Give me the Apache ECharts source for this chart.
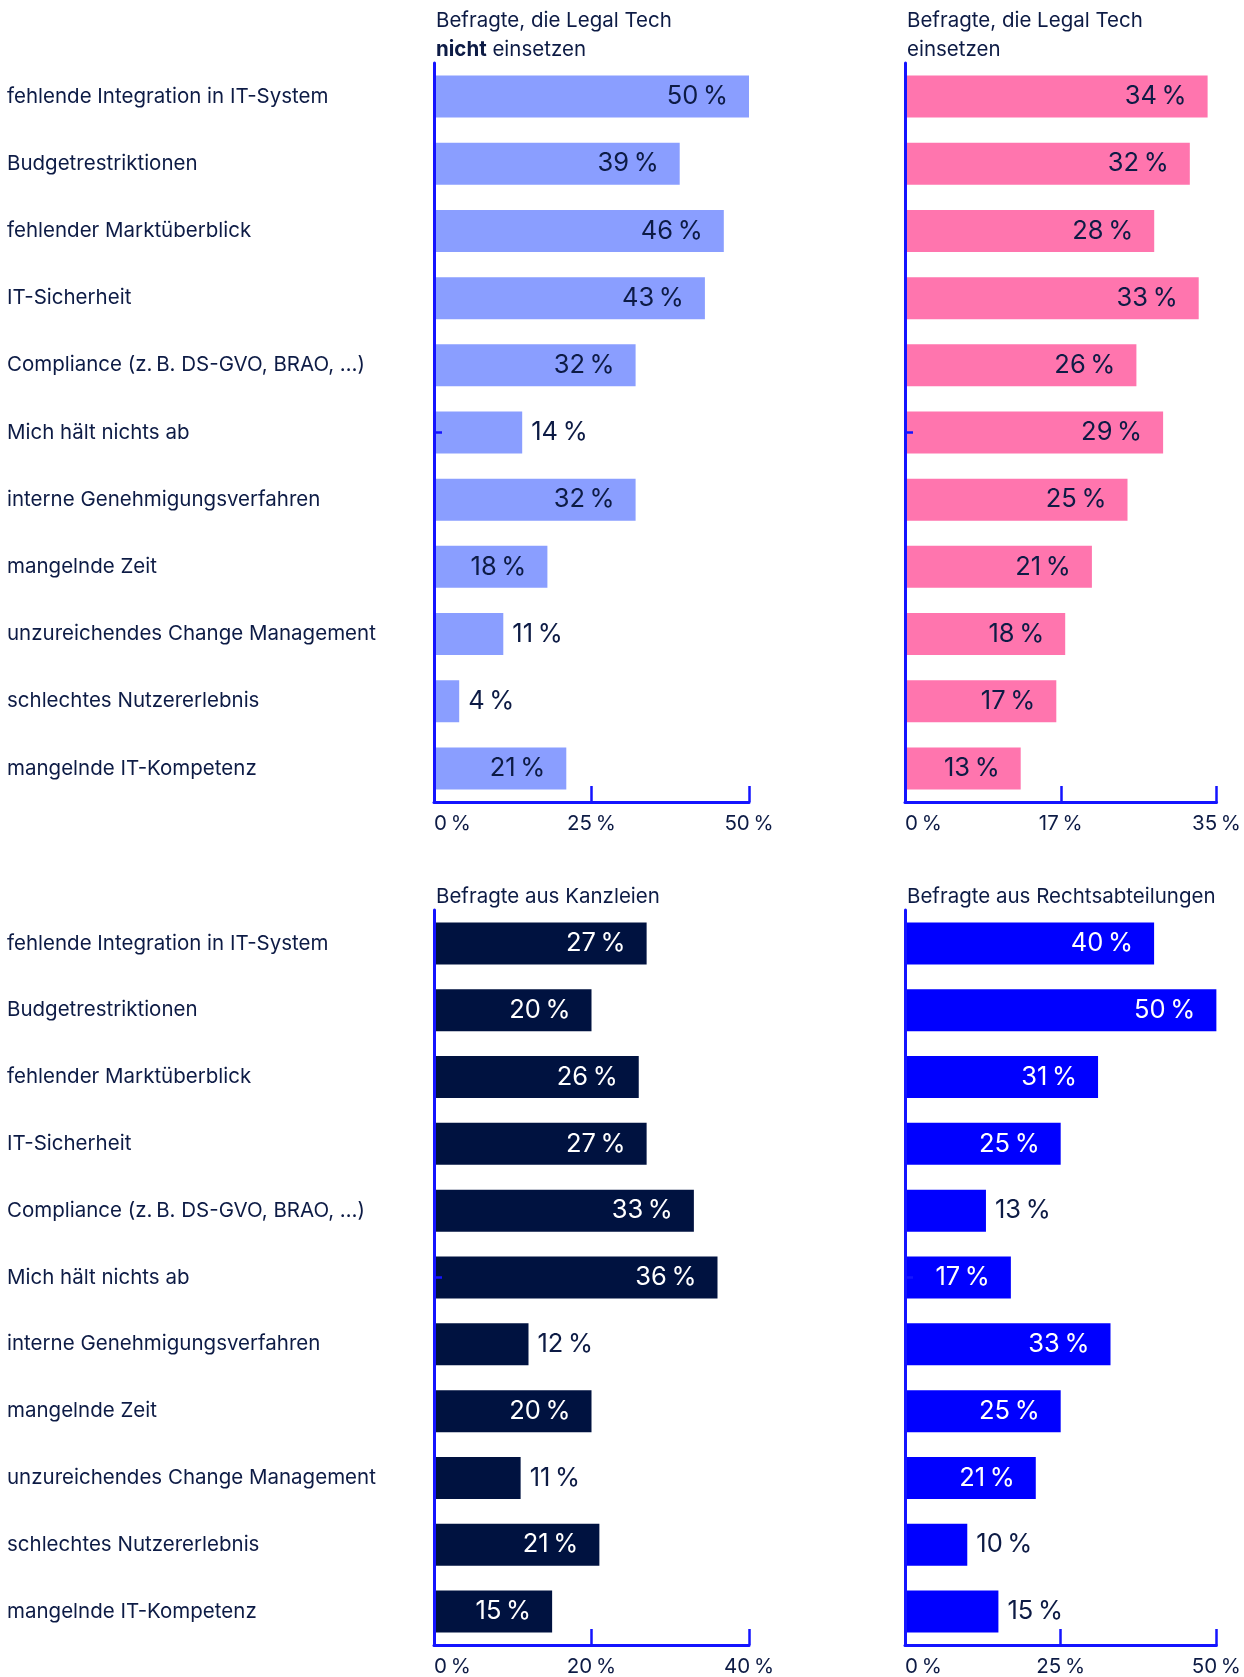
<!DOCTYPE html>
<html><head><meta charset="utf-8">
<script src="https://cdn.jsdelivr.net/npm/echarts@6/dist/echarts.min.js"></script>
<style>html,body{margin:0;padding:0;background:#fff}#c{width:1244px;height:1677px}</style>
</head><body><div id="c"></div>
<script>
const categories = [
  'fehlende Integration in IT-System',
  'Budgetrestriktionen',
  'fehlender Marktüberblick',
  'IT-Sicherheit',
  'Compliance (z.\u2009B. DS-GVO, BRAO, …)',
  'Mich hält nichts ab',
  'interne Genehmigungsverfahren',
  'mangelnde Zeit',
  'unzureichendes Change Management',
  'schlechtes Nutzererlebnis',
  'mangelnde IT-Kompetenz'
];
const nichtEinsetzen = [50, 39, 46, 43, 32, 14, 32, 18, 11, 4, 21];
const einsetzen = [34, 32, 28, 33, 26, 29, 25, 21, 18, 17, 13];
const kanzleien = [27, 20, 26, 27, 33, 36, 12, 20, 11, 21, 15];
const rechtsabteilungen = [40, 50, 31, 25, 13, 17, 33, 25, 21, 10, 15];
const ticksNicht = ['0\u2009%', '25\u2009%', '50\u2009%'];
const ticksEinsetzen = ['0\u2009%', '17\u2009%', '35\u2009%'];
const ticksKanzleien = ['0\u2009%', '20\u2009%', '40\u2009%'];
const ticksRecht = ['0\u2009%', '25\u2009%', '50\u2009%'];
const titles = [
  '{n|Befragte, die Legal Tech}\n{b|nicht}{n| einsetzen}',
  '{n|Befragte, die Legal Tech}\n{n|einsetzen}',
  '{n|Befragte aus Kanzleien}',
  '{n|Befragte aus Rechtsabteilungen}'
];

const TXT = '#0d1b45';
const AX = '#1414ff';
const FONT = 'Inter, "Noto Sans", sans-serif';
const panels = [
  {data: nichtEinsetzen, max: 50, ticks: ticksNicht, color: '#8a9eff', inColor: TXT, left: 434, width: 315, top: 63, height: 739, showCat: true},
  {data: einsetzen, max: 35, ticks: ticksEinsetzen, color: '#ff75ae', inColor: TXT, left: 905, width: 317, top: 63, height: 739, showCat: false},
  {data: kanzleien, max: 40, ticks: ticksKanzleien, color: '#001240', inColor: '#ffffff', left: 434, width: 315, top: 910, height: 735, showCat: true},
  {data: rechtsabteilungen, max: 50, ticks: ticksRecht, color: '#0000ff', inColor: '#ffffff', left: 905, width: 317, top: 910, height: 735, showCat: false}
];
const THRESH = 100;

const option = {
  animation: false,
  textStyle: {fontFamily: FONT},
  title: panels.map((p, i) => ({
    text: titles[i],
    left: p.left - 3,
    top: i < 2 ? 1 : 877,
    textStyle: {
      fontWeight: 'normal',
      rich: {
        n: {fontSize: 20.5, fontFamily: FONT, color: TXT, fontWeight: 'normal', lineHeight: 29},
        b: {fontSize: 20.5, fontFamily: FONT, color: TXT, fontWeight: 'bold', lineHeight: 29}
      }
    }
  })),
  grid: panels.map(p => ({left: p.left, top: p.top, width: p.width, height: p.height, containLabel: false})),
  xAxis: panels.map((p, i) => ({
    gridIndex: i, type: 'value', min: 0, max: p.max, interval: p.max / 2,
    splitLine: {show: false}, z: 5,
    axisLine: {show: true, lineStyle: {color: AX, width: 3}},
    axisTick: {show: true, inside: true, length: 16, lineStyle: {color: AX, width: 2.5}},
    axisLabel: {
      color: TXT, fontSize: 20.5, fontFamily: FONT, margin: 11,
      alignMinLabel: 'left',
      formatter: (v, idx) => p.ticks[idx]
    }
  })),
  yAxis: panels.map((p, i) => ({
    gridIndex: i, type: 'category', data: categories, inverse: true, z: 5,
    axisLine: {show: true, lineStyle: {color: AX, width: 3}},
    axisTick: {show: true, inside: true, alignWithLabel: true, length: 8,
      interval: (idx) => idx === 5, lineStyle: {color: AX, width: 2.5}},
    axisLabel: {
      show: p.showCat, align: 'left', margin: p.left - 7,
      color: TXT, fontSize: 20.5, fontFamily: FONT, padding: [3, 0, 0, 0]
    }
  })),
  series: panels.map((p, i) => ({
    type: 'bar', xAxisIndex: i, yAxisIndex: i, barWidth: 42,
    itemStyle: {color: p.color},
    data: p.data.map(v => {
      const inside = v / p.max * p.width > THRESH;
      return {
        value: v,
        label: {
          show: true,
          position: inside ? 'insideRight' : 'right',
          distance: inside ? 21 : 9,
          color: inside ? p.inColor : TXT,
          fontSize: 25.5, fontFamily: FONT, padding: [4, 0, 0, 0],
          formatter: (d) => d.value + '\u2009%'
        }
      };
    })
  }))
};
echarts.init(document.getElementById('c'), null, {renderer: 'canvas'}).setOption(option);
</script></body></html>
